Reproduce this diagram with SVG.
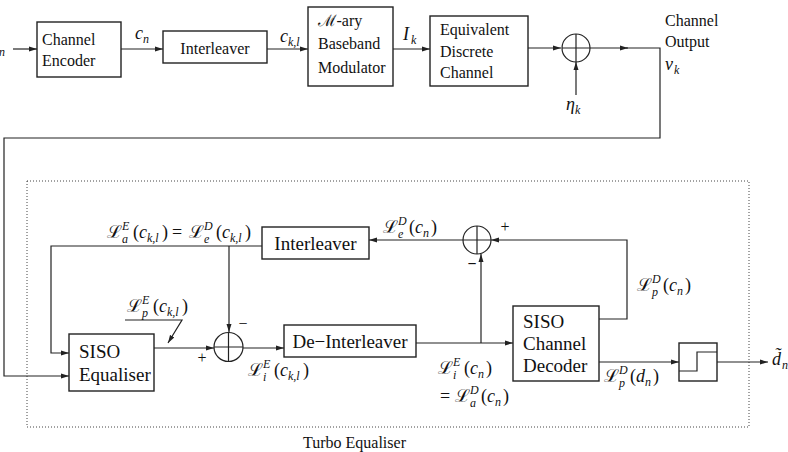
<svg xmlns="http://www.w3.org/2000/svg" width="788" height="452" viewBox="0 0 788 452">
<style>
.box{fill:#fff;stroke:#222;stroke-width:1.4}
.ln{fill:none;stroke:#222;stroke-width:1.2}
.t,.tb,.m{font-family:"Liberation Serif","Times New Roman",Tinos,"DejaVu Serif","Noto Serif",FreeSerif,serif;fill:#111}
.t{font-size:16px}
.tb{font-size:19px}
.m{font-size:18px;font-style:italic}
.s{font-size:12px}
.u{font-style:normal}
.dot{fill:none;stroke:#444;stroke-width:1;stroke-dasharray:1 2}
</style>
<defs>
<marker id="ar" markerWidth="9" markerHeight="6" refX="8" refY="3" orient="auto" markerUnits="userSpaceOnUse">
<path d="M0,0.5 L8,3 L0,5.5 z" fill="#222"/>
</marker>
</defs>

<rect class="dot" x="27" y="181" width="722" height="246"/>
<text class="t" x="303" y="448" font-size="14">Turbo Equaliser</text>

<g id="connectors">
<path class="ln" d="M13,49 H37" marker-end="url(#ar)"/>
<path class="ln" d="M121,49 H163" marker-end="url(#ar)"/>
<path class="ln" d="M267,49 H308" marker-end="url(#ar)"/>
<path class="ln" d="M393,49 H430" marker-end="url(#ar)"/>
<path class="ln" d="M528,48 H561" marker-end="url(#ar)"/>
<path class="ln" d="M590,48 H628" marker-end="url(#ar)"/>
<path class="ln" d="M626,48 H660 V138 H4 V376 H69" marker-end="url(#ar)"/>
<path class="ln" d="M576,95 V62" marker-end="url(#ar)"/>
<path class="ln" d="M262,246 H51 V353 H69" marker-end="url(#ar)"/>
<path class="ln" d="M229,246 V332" marker-end="url(#ar)"/>
<path class="ln" d="M154,348 H214" marker-end="url(#ar)"/>
<path class="ln" d="M243,348 H284" marker-end="url(#ar)"/>
<path class="ln" d="M416,343 H513" marker-end="url(#ar)"/>
<path class="ln" d="M481,343 V254" marker-end="url(#ar)"/>
<path class="ln" d="M599,319 H627 V240 H491" marker-end="url(#ar)"/>
<path class="ln" d="M463,240 H369" marker-end="url(#ar)"/>
<path class="ln" d="M599,362 H679" marker-end="url(#ar)"/>
<path class="ln" d="M717,362 H768" marker-end="url(#ar)"/>
<path class="ln" d="M125,320 H182 L168,343" marker-end="url(#ar)"/>
</g>

<g id="enc"><rect class="box" x="37" y="22" width="84" height="55"/>
<text class="t" x="42" y="45">Channel</text><text class="t" x="42" y="66">Encoder</text></g>
<g id="il1"><rect class="box" x="163" y="31" width="104" height="32"/>
<text class="t" x="215" y="54" text-anchor="middle">Interleaver</text></g>
<g id="mod"><rect class="box" x="308" y="7" width="85" height="79"/>
<text class="t" x="318" y="26">ℳ-ary</text><text class="t" x="318" y="49">Baseband</text><text class="t" x="318" y="73">Modulator</text></g>
<g id="edc"><rect class="box" x="430" y="16" width="98" height="70"/>
<text class="t" x="440" y="35">Equivalent</text><text class="t" x="440" y="57">Discrete</text><text class="t" x="440" y="78">Channel</text></g>
<g id="sum1"><circle class="ln" cx="576" cy="48" r="14"/><path class="ln" d="M562,48 H590 M576,34 V62"/></g>
<g id="out"><text class="t" x="665" y="26">Channel</text><text class="t" x="665" y="47">Output</text></g>

<g id="il2"><rect class="box" x="262" y="227" width="107" height="32"/>
<text class="tb" x="315.5" y="250" text-anchor="middle">Interleaver</text></g>
<g id="deil"><rect class="box" x="284" y="325" width="132" height="32"/>
<text class="tb" x="350" y="348" text-anchor="middle">De−Interleaver</text></g>
<g id="eq"><rect class="box" x="69" y="334" width="85" height="57"/>
<text class="tb" x="79" y="358">SISO</text><text class="tb" x="79" y="381">Equaliser</text></g>
<g id="dec"><rect class="box" x="513" y="306" width="86" height="75"/>
<text class="tb" x="523" y="328">SISO</text><text class="tb" x="523" y="350">Channel</text><text class="tb" x="523" y="372">Decoder</text></g>
<g id="hd"><rect class="box" x="679" y="343" width="38" height="38"/>
<path class="ln" d="M679,371 H697 V352 H717" stroke-width="1.6"/></g>
<g id="sum2"><circle class="ln" cx="228.5" cy="347" r="14.5"/><path class="ln" d="M214,347 H243 M228.5,332.5 V361.5"/></g>
<g id="sum3"><circle class="ln" cx="477" cy="240" r="14"/><path class="ln" d="M463,240 H491 M477,226 V254"/></g>

<g id="labels">
<text class="m"><tspan x="-10" y="52">d</tspan><tspan class="s" x="-1" y="56">n</tspan></text>
<text class="m"><tspan x="135" y="39">c</tspan><tspan class="s" x="143" y="43">n</tspan></text>
<text class="m"><tspan x="280" y="42">c</tspan><tspan class="s" x="288" y="46">k,l</tspan></text>
<text class="m"><tspan x="403" y="40">I</tspan><tspan class="s" x="411" y="44">k</tspan></text>
<text class="m"><tspan x="566" y="110">η</tspan><tspan class="s" x="575" y="114">k</tspan></text>
<text class="m"><tspan x="665" y="70">v</tspan><tspan class="s" x="674" y="74">k</tspan></text>
<text class="m"><tspan x="772" y="365">d̃</tspan><tspan class="s" x="782" y="369">n</tspan></text>

<text class="m"><tspan x="107" y="238">ℒ</tspan><tspan class="s" x="122" y="230">E</tspan><tspan class="s" x="122" y="243">a</tspan><tspan class="u" x="133" y="238">(</tspan><tspan x="139" y="238">c</tspan><tspan class="s" x="147" y="242">k,l</tspan><tspan class="u" x="162" y="238">)</tspan><tspan class="u" x="172" y="238">=</tspan><tspan x="189" y="238">ℒ</tspan><tspan class="s" x="204" y="230">D</tspan><tspan class="s" x="204" y="243">e</tspan><tspan class="u" x="216" y="238">(</tspan><tspan x="222" y="238">c</tspan><tspan class="s" x="230" y="242">k,l</tspan><tspan class="u" x="245" y="238">)</tspan></text>

<text class="m"><tspan x="127" y="312">ℒ</tspan><tspan class="s" x="142" y="304">E</tspan><tspan class="s" x="142" y="317">p</tspan><tspan class="u" x="153" y="312">(</tspan><tspan x="159" y="312">c</tspan><tspan class="s" x="167" y="316">k,l</tspan><tspan class="u" x="182" y="312">)</tspan></text>

<text class="m"><tspan x="248" y="376">ℒ</tspan><tspan class="s" x="263" y="368">E</tspan><tspan class="s" x="263" y="381">i</tspan><tspan class="u" x="274" y="376">(</tspan><tspan x="280" y="376">c</tspan><tspan class="s" x="288" y="380">k,l</tspan><tspan class="u" x="303" y="376">)</tspan></text>

<text class="m"><tspan x="383" y="233">ℒ</tspan><tspan class="s" x="398" y="225">D</tspan><tspan class="s" x="398" y="238">e</tspan><tspan class="u" x="409" y="233">(</tspan><tspan x="415" y="233">c</tspan><tspan class="s" x="423" y="237">n</tspan><tspan class="u" x="431" y="233">)</tspan></text>

<text class="m"><tspan x="438" y="374">ℒ</tspan><tspan class="s" x="453" y="366">E</tspan><tspan class="s" x="453" y="379">i</tspan><tspan class="u" x="464" y="374">(</tspan><tspan x="470" y="374">c</tspan><tspan class="s" x="478" y="378">n</tspan><tspan class="u" x="486" y="374">)</tspan></text>

<text class="m"><tspan class="u" x="440" y="402">=</tspan><tspan x="455" y="402">ℒ</tspan><tspan class="s" x="470" y="394">D</tspan><tspan class="s" x="470" y="407">a</tspan><tspan class="u" x="481" y="402">(</tspan><tspan x="487" y="402">c</tspan><tspan class="s" x="495" y="406">n</tspan><tspan class="u" x="503" y="402">)</tspan></text>

<text class="m"><tspan x="637" y="291">ℒ</tspan><tspan class="s" x="652" y="283">D</tspan><tspan class="s" x="652" y="296">p</tspan><tspan class="u" x="663" y="291">(</tspan><tspan x="669" y="291">c</tspan><tspan class="s" x="677" y="295">n</tspan><tspan class="u" x="685" y="291">)</tspan></text>

<text class="m"><tspan x="604" y="382">ℒ</tspan><tspan class="s" x="619" y="374">D</tspan><tspan class="s" x="619" y="387">p</tspan><tspan class="u" x="630" y="382">(</tspan><tspan x="636" y="382">d</tspan><tspan class="s" x="645" y="386">n</tspan><tspan class="u" x="653" y="382">)</tspan></text>

<text class="t" x="202" y="363" font-size="18" text-anchor="middle">+</text>
<text class="t" x="243" y="329" font-size="18" text-anchor="middle">−</text>
<text class="t" x="505" y="232" font-size="18" text-anchor="middle">+</text>
<text class="t" x="472" y="269" font-size="18" text-anchor="middle" font-weight="bold">−</text>
</g>
</svg>
